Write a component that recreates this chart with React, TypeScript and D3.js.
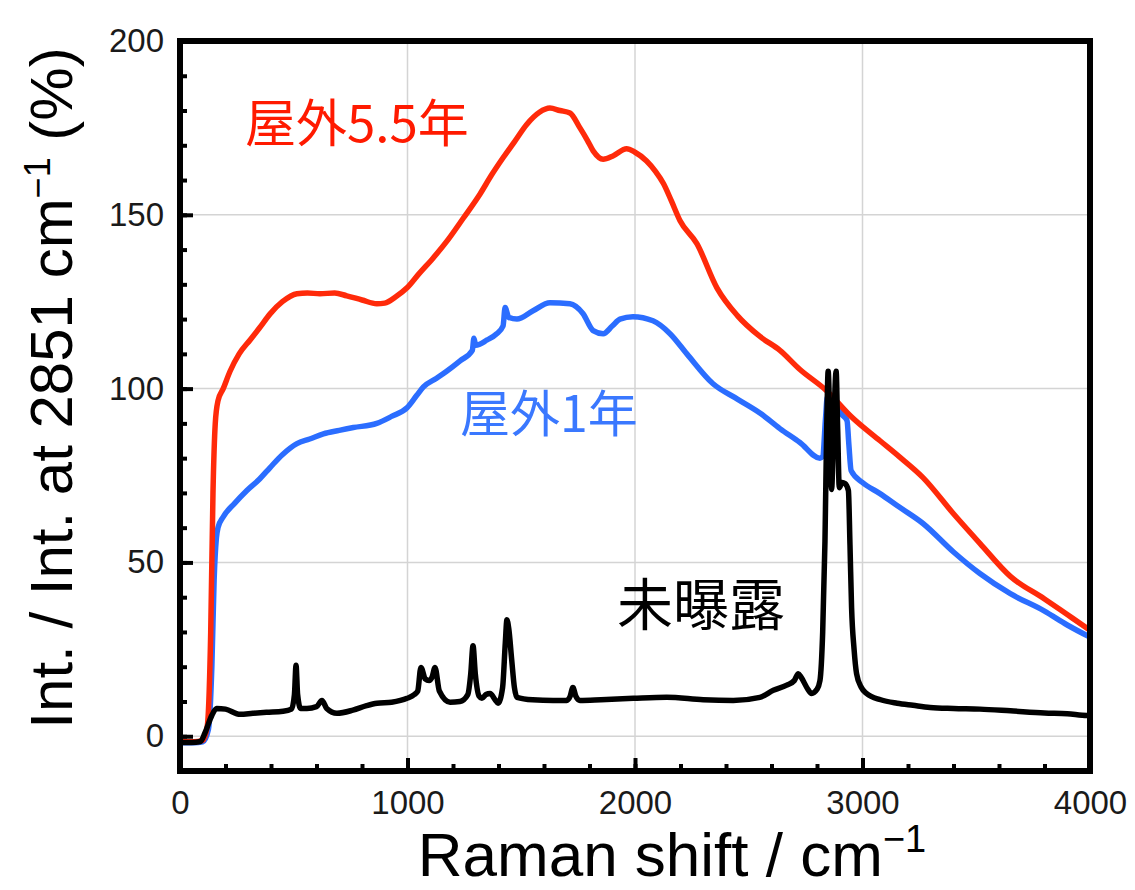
import React, { useRef, useEffect } from 'react';
import * as d3 from 'd3';

// 屋外5.5年 (red)
const outdoor55X = [0, 60, 100, 120, 135, 145, 155, 167, 190, 220, 260, 308, 350, 396, 450, 514, 560, 615, 680, 733, 800, 865, 900, 950, 998, 1050, 1113, 1180, 1245, 1319, 1370, 1420, 1470, 1524, 1580, 1626, 1670, 1714, 1758, 1790, 1816, 1860, 1905, 1963, 2000, 2051, 2090, 2125, 2160, 2198, 2272, 2360, 2450, 2549, 2637, 2725, 2842, 2950, 3077, 3160, 3266, 3400, 3516, 3650, 3800, 3900, 4000];
const outdoor55Y = [-1.5, -1.6, -1.2, 3, 30, 70, 90, 96.5, 100, 105, 110, 114, 117.5, 121.5, 125, 127.3, 127.5, 127.3, 127.5, 126.7, 125.5, 124.4, 124.6, 126.5, 129, 133, 137.6, 143, 149, 156, 161.5, 166.4, 171, 176, 179.5, 180.7, 180, 179.3, 175, 171.5, 168.4, 166, 167, 169, 168, 165.5, 162.5, 159, 154, 148.3, 141.7, 129, 121, 115, 111, 105.5, 99.4, 92, 85, 80.5, 74.4, 64, 55.5, 46, 39.5, 35, 30.5];

// 屋外1年 (blue)
const outdoor1X = [0, 60, 100, 125, 140, 150, 160, 167, 189, 240, 294, 350, 396, 450, 514, 570, 630, 700, 762, 865, 930, 998, 1040, 1070, 1128, 1172, 1231, 1285, 1292, 1300, 1350, 1392, 1420, 1429, 1445, 1481, 1552, 1626, 1714, 1771, 1816, 1860, 1900, 1934, 1991, 2079, 2154, 2228, 2343, 2450, 2549, 2637, 2725, 2813, 2825, 2838, 2845, 2860, 2880, 2910, 2932, 2940, 2950, 3000, 3077, 3160, 3266, 3400, 3516, 3650, 3800, 3900, 4000];
const outdoor1Y = [-1.8, -1.9, -1.6, 2, 20, 45, 57, 60, 63, 67, 70.7, 74, 77.3, 81, 84.2, 85.5, 87, 88, 88.8, 90, 92, 94.5, 98, 100.5, 103, 105, 108, 111, 114.5, 112.5, 114, 115.8, 118, 123.3, 120.5, 120, 122.4, 124.7, 124.4, 121.6, 116.7, 115.8, 118, 120, 120.7, 119.5, 115.8, 110, 101.4, 97, 93, 88.5, 84.5, 80, 80.5, 92, 97.5, 96, 95.7, 92.5, 90.8, 84, 76.4, 73, 69.8, 66, 61.2, 53, 46.8, 41, 36, 32, 28.5];

// 未曝露 (black)
const unexposedX = [0, 50, 90, 110, 140, 161, 200, 264, 320, 380, 453, 490, 503, 510, 517, 530, 558, 600, 624, 645, 690, 760, 820, 866, 930, 998, 1030, 1045, 1059, 1078, 1095, 1108, 1121, 1140, 1187, 1230, 1265, 1278, 1288, 1298, 1315, 1327, 1345, 1363, 1385, 1398, 1418, 1430, 1437, 1445, 1458, 1470, 1481, 1550, 1640, 1700, 1715, 1727, 1740, 1758, 1850, 1993, 2139, 2300, 2432, 2549, 2608, 2667, 2700, 2718, 2730, 2760, 2776, 2800, 2813, 2825, 2835, 2843, 2849, 2857, 2864, 2874, 2884, 2891, 2898, 2910, 2923, 2938, 2945, 2952, 2963, 2974, 2995, 3018, 3080, 3152, 3222, 3297, 3400, 3516, 3650, 3800, 3900, 3987, 4000];
const unexposedY = [-1.7, -1.8, -1.5, 1, 6, 8, 7.8, 6.3, 6.6, 6.9, 7.2, 7.8, 12, 20.4, 12, 8, 8, 8.5, 10.3, 8, 6.6, 7.5, 8.8, 9.5, 9.8, 10.9, 12, 13, 19.8, 16.5, 16, 17, 19.8, 13, 9.8, 10, 12, 18, 26, 18, 11.5, 10.9, 12, 12.3, 10.5, 9.5, 14, 27, 33.5, 31, 22, 14, 11.2, 10.5, 10.3, 10.3, 11.5, 14, 11.5, 10.3, 10.5, 10.9, 11.2, 10.5, 10.3, 11.2, 13.2, 14.7, 16, 18, 17, 13.5, 12.3, 13.5, 16, 30, 56, 90, 105, 88, 71, 90, 105, 88, 71.5, 73, 72.7, 70.7, 55, 37, 25, 18, 14, 12.3, 10.5, 9.5, 8.9, 8.3, 8, 7.8, 7.3, 6.7, 6.5, 6, 6.2];

const xMajor = [0, 1000, 2000, 3000, 4000];
const yMajor = [0, 50, 100, 150, 200];

const W = 1135;
const H = 890;
const margin = { top: 41, right: 45, bottom: 119, left: 180 };
const latin = '"Liberation Sans", Arial, Helvetica, sans-serif';
const cjk = '"Noto Sans CJK JP", "Noto Sans", sans-serif';

const App = () => {
  const svgRef = useRef(null);
  useEffect(() => {
    const svg = d3.select(svgRef.current);
    svg.selectAll('*').remove();
    const x = d3.scaleLinear().domain([0, 4000]).range([margin.left, W - margin.right]);
    const y = d3.scaleLinear().domain([-10, 200]).range([H - margin.bottom, margin.top]);

    // grid
    const grid = svg.append('g').attr('stroke', '#d4d4d4').attr('stroke-width', 1.5);
    grid.selectAll('.gx').data(xMajor.slice(1, -1)).join('line')
      .attr('x1', d => x(d)).attr('x2', d => x(d))
      .attr('y1', y(-10)).attr('y2', y(200));
    grid.selectAll('.gy').data(yMajor.slice(0, -1)).join('line')
      .attr('x1', x(0)).attr('x2', x(4000))
      .attr('y1', d => y(d)).attr('y2', d => y(d));

    const line = d3.line<[number, number]>()
      .x(d => x(d[0]))
      .y(d => y(d[1]))
      .curve(d3.curveMonotoneX);

    const series = [
      { xs: outdoor1X, ys: outdoor1Y, color: '#2b6dff' },
      { xs: outdoor55X, ys: outdoor55Y, color: '#ff2a0a' },
      { xs: unexposedX, ys: unexposedY, color: '#000000' },
    ];
    series.forEach(s => {
      svg.append('path')
        .datum(s.xs.map((v, i) => [v, s.ys[i]] as [number, number]))
        .attr('d', line)
        .attr('fill', 'none')
        .attr('stroke', s.color)
        .attr('stroke-width', 5.5)
        .attr('stroke-linejoin', 'round')
        .attr('stroke-linecap', 'round');
    });

    // axes
    const xAxis = svg.append('g').attr('transform', `translate(0,${y(-10)})`);
    xAxis.call(d3.axisBottom(x).tickValues(d3.range(0, 4001, 200)).tickSize(-7).tickFormat(() => ''));
    xAxis.call(g => g.append('g').call(d3.axisBottom(x).tickValues(xMajor).tickSize(-13).tickPadding(20).tickFormat(d3.format('d'))));
    const yAxis = svg.append('g').attr('transform', `translate(${x(0)},0)`);
    yAxis.call(d3.axisLeft(y).tickValues(d3.range(-10, 201, 10)).tickSize(-7).tickFormat(() => ''));
    yAxis.call(g => g.append('g').call(d3.axisLeft(y).tickValues(yMajor).tickSize(-13).tickPadding(16).tickFormat(d3.format('d'))));
    svg.selectAll('.domain').remove();
    svg.selectAll('.tick line').attr('stroke', '#000').attr('stroke-width', 4);
    svg.selectAll('.tick text')
      .attr('font-family', latin)
      .attr('font-size', 33)
      .attr('fill', '#1a1a1a');

    // frame
    svg.append('rect')
      .attr('x', x(0)).attr('y', y(200))
      .attr('width', x(4000) - x(0)).attr('height', y(-10) - y(200))
      .attr('fill', 'none').attr('stroke', '#000').attr('stroke-width', 6);

    // annotations
    svg.append('text').attr('x', x(286)).attr('y', y(171))
      .attr('font-family', cjk).attr('font-size', 51).attr('fill', '#ff1a00')
      .text('屋外5.5年');
    svg.append('text').attr('x', x(1231)).attr('y', y(87.5))
      .attr('font-family', cjk).attr('font-size', 50).attr('fill', '#3a78ff')
      .text('屋外1年');
    svg.append('text').attr('x', x(1921)).attr('y', y(32))
      .attr('font-family', cjk).attr('font-size', 56).attr('fill', '#000')
      .text('未曝露');

    // axis titles
    const xt = svg.append('text')
      .attr('x', 672).attr('y', 876)
      .attr('text-anchor', 'middle')
      .attr('font-family', latin).attr('font-size', 62).attr('fill', '#000');
    xt.append('tspan').text('Raman shift / cm');
    xt.append('tspan').attr('dy', -24).attr('font-size', 38).text('−1');

    const yt = svg.append('text')
      .attr('transform', 'translate(72,388) rotate(-90)')
      .attr('text-anchor', 'middle')
      .attr('font-family', latin).attr('font-size', 60).attr('fill', '#000');
    yt.append('tspan').text('Int. / Int. at 2851 cm');
    yt.append('tspan').attr('dy', -22).attr('font-size', 36).text('−1');
    yt.append('tspan').attr('dy', 22).text(' (%)');
  }, []);
  return (
    <svg ref={svgRef} width={W} height={H}
      style={{ position: 'absolute', left: 0, top: 0, background: '#fff' }} />
  );
};

export default App;
